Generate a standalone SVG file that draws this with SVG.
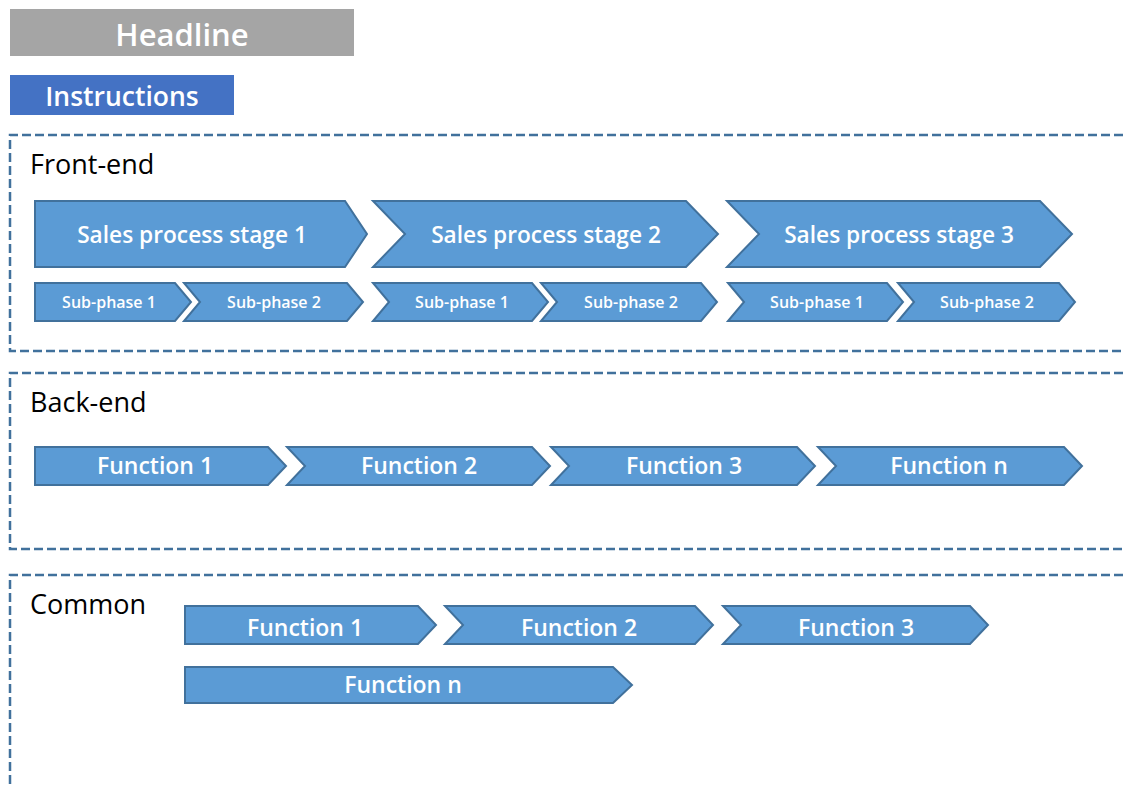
<svg xmlns="http://www.w3.org/2000/svg" width="1123" height="787" viewBox="0 0 1123 787">
  <style>
    .chev { fill: #5b9bd5; stroke: #41719c; stroke-width: 2; stroke-linejoin: miter; }
    .lbl { font-family: "Open Sans", "Liberation Sans", sans-serif; fill: #ffffff; text-anchor: middle; font-weight: 600; }
    .big { font-size: 22.7px; }
    .small { font-size: 16px; }
    .fn { font-size: 23px; }
    .sec { font-family: "Open Sans", "Liberation Sans", sans-serif; font-size: 27px; fill: #000000; }
    .frame { fill: none; stroke: #41719c; stroke-width: 2.5; stroke-dasharray: 9 4; }
  </style>

  <!-- title bars -->
  <g id="headline">
    <rect x="10" y="9" width="344" height="47" fill="#a5a5a5"/>
    <text class="lbl" x="182" y="46" font-size="31">Headline</text>
  </g>
  <g id="instructions">
    <rect x="10" y="75" width="224" height="40" fill="#4472c4"/>
    <text class="lbl" x="122" y="106" font-size="26.5">Instructions</text>
  </g>

  <!-- dashed section frames -->
  <g id="frames">
    <path class="frame" d="M1123,135 H10 V351 H1123"/>
    <path class="frame" d="M1123,373 H10 V549 H1123"/>
    <path class="frame" d="M1123,575 H10 V790"/>
  </g>

  <!-- Front-end -->
  <g id="front-end">
    <text class="sec" x="30" y="174">Front-end</text>
  </g>
  <g id="stage1">
    <polygon class="chev" points="35,201 345,201 367,234 345,267 35,267"/>
    <text class="lbl big" x="192" y="243">Sales process stage 1</text>
  </g>
  <g id="stage2">
    <polygon class="chev" points="373,201 686,201 718,234 686,267 373,267 405,234"/>
    <text class="lbl big" x="546" y="243">Sales process stage 2</text>
  </g>
  <g id="stage3">
    <polygon class="chev" points="727,201 1040,201 1072,234 1040,267 727,267 759,234"/>
    <text class="lbl big" x="899" y="243">Sales process stage 3</text>
  </g>

  <g id="s1-sub1">
    <polygon class="chev" points="35,283 175,283 191,302 175,321 35,321"/>
    <text class="lbl small" x="109" y="308">Sub-phase 1</text>
  </g>
  <g id="s1-sub2">
    <polygon class="chev" points="184,283 347,283 363,302 347,321 184,321 200,302"/>
    <text class="lbl small" x="274" y="308">Sub-phase 2</text>
  </g>
  <g id="s2-sub1">
    <polygon class="chev" points="373,283 532,283 548,302 532,321 373,321 389,302"/>
    <text class="lbl small" x="462" y="308">Sub-phase 1</text>
  </g>
  <g id="s2-sub2">
    <polygon class="chev" points="541,283 701,283 717,302 701,321 541,321 557,302"/>
    <text class="lbl small" x="631" y="308">Sub-phase 2</text>
  </g>
  <g id="s3-sub1">
    <polygon class="chev" points="728,283 887,283 903,302 887,321 728,321 744,302"/>
    <text class="lbl small" x="817" y="308">Sub-phase 1</text>
  </g>
  <g id="s3-sub2">
    <polygon class="chev" points="898,283 1059,283 1075,302 1059,321 898,321 914,302"/>
    <text class="lbl small" x="987" y="308">Sub-phase 2</text>
  </g>

  <!-- Back-end -->
  <g id="back-end">
    <text class="sec" x="30" y="412">Back-end</text>
  </g>
  <g id="be-f1">
    <polygon class="chev" points="35,447 268,447 286,466 268,485 35,485"/>
    <text class="lbl fn" x="155" y="474">Function 1</text>
  </g>
  <g id="be-f2">
    <polygon class="chev" points="287,447 532,447 550,466 532,485 287,485 305,466"/>
    <text class="lbl fn" x="419" y="474">Function 2</text>
  </g>
  <g id="be-f3">
    <polygon class="chev" points="551,447 797,447 815,466 797,485 551,485 569,466"/>
    <text class="lbl fn" x="684" y="474">Function 3</text>
  </g>
  <g id="be-fn">
    <polygon class="chev" points="818,447 1064,447 1082,466 1064,485 818,485 836,466"/>
    <text class="lbl fn" x="949" y="474">Function n</text>
  </g>

  <!-- Common -->
  <g id="common">
    <text class="sec" x="30" y="614">Common</text>
  </g>
  <g id="cm-f1">
    <polygon class="chev" points="185,606 418,606 436,625 418,644 185,644"/>
    <text class="lbl fn" x="305" y="636">Function 1</text>
  </g>
  <g id="cm-f2">
    <polygon class="chev" points="445,606 695,606 713,625 695,644 445,644 463,625"/>
    <text class="lbl fn" x="579" y="636">Function 2</text>
  </g>
  <g id="cm-f3">
    <polygon class="chev" points="723,606 970,606 988,625 970,644 723,644 741,625"/>
    <text class="lbl fn" x="856" y="636">Function 3</text>
  </g>
  <g id="cm-fn">
    <polygon class="chev" points="185,667 613,667 632,685 613,703 185,703"/>
    <text class="lbl fn" x="403" y="693">Function n</text>
  </g>
</svg>
